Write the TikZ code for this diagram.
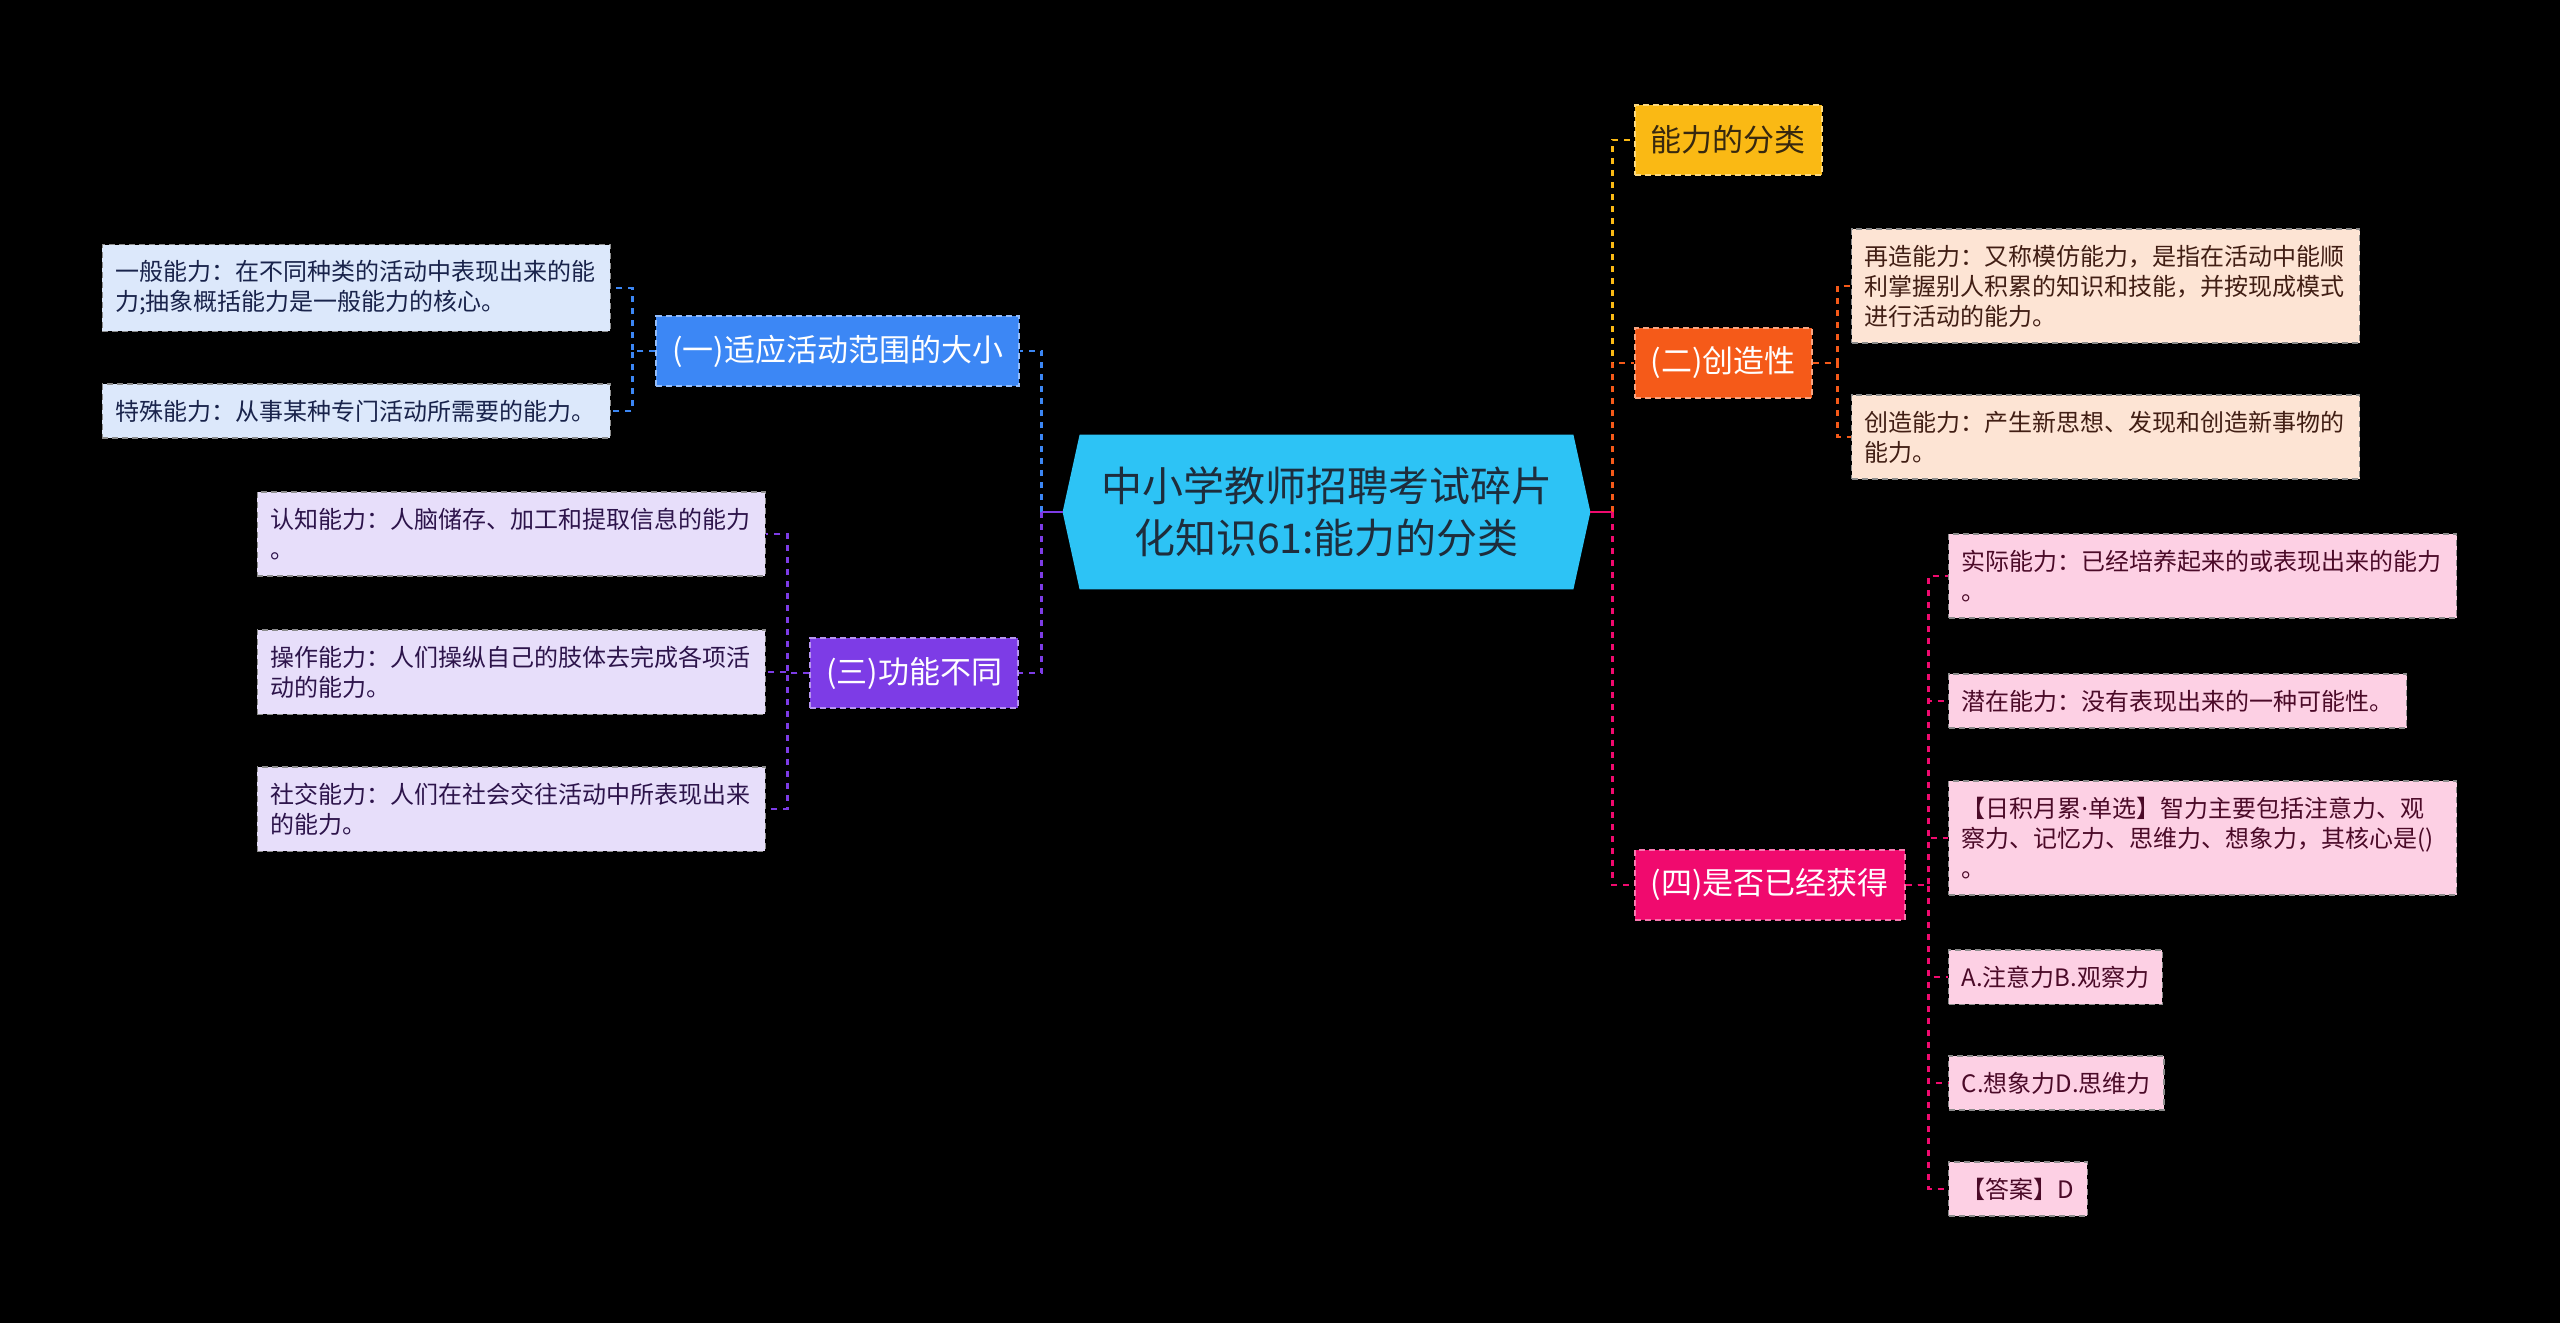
\documentclass[tikz,border=0pt]{standalone}
\usepackage{fontspec}
\setmainfont{Noto Sans CJK SC}
\newfontfamily\latinfont{Noto Sans}
\usetikzlibrary{positioning,calc,backgrounds}

\definecolor{rootcyan}{RGB}{45,195,245}
\definecolor{roottext}{RGB}{30,45,60}
\definecolor{blueb}{RGB}{60,135,245}
\definecolor{bluel}{RGB}{220,232,251}
\definecolor{bluet}{RGB}{25,35,75}
\definecolor{purpb}{RGB}{125,60,230}
\definecolor{purpl}{RGB}{231,222,250}
\definecolor{purpt}{RGB}{45,20,75}
\definecolor{yelb}{RGB}{250,185,20}
\definecolor{yelt}{RGB}{55,40,15}
\definecolor{orab}{RGB}{245,90,25}
\definecolor{oral}{RGB}{253,228,212}
\definecolor{orat}{RGB}{65,30,20}
\definecolor{pinkb}{RGB}{240,10,110}
\definecolor{pinkl}{RGB}{253,208,228}
\definecolor{pinkt}{RGB}{75,10,40}

\begin{document}
\begin{tikzpicture}[
    x=0.5pt, y=-0.5pt,
    branch/.style={rectangle, fill=#1, draw=white!45!#1, dash pattern=on 3pt off 2pt,
                   line width=0.8pt, text=white, inner xsep=8pt, minimum height=35pt,
                   font=\fontsize{15.5}{18}\selectfont},
    leaf/.style 2 args={rectangle, fill=#1, text=#2, draw=black!45, dash pattern=on 3pt off 2pt,
                   line width=0.7pt, inner xsep=6.5pt, inner ysep=8pt, minimum height=27pt,
                   align=left, font=\fontsize{12}{15}\selectfont},
    wide/.style={text width=241pt},
    link/.style={#1, line width=1.2pt, dash pattern=on 3pt off 3pt},
    stub/.style={#1, line width=1.4pt}
]
\useasboundingbox (0,0) rectangle (2560,1323);
\begin{scope}[on background layer]
  \fill[black] (0,0) rectangle (2560,1323);
\end{scope}

%% ── Root ─────────────────────────────────────────────────────────
\node[font=\fontsize{20.5}{26}\selectfont, text=roottext, align=center,
      minimum width=263.5pt, minimum height=77pt, inner sep=0pt] (root) at (1326.5,512)
    {中小学教师招聘考试碎片\\化知识61:能力的分类};
\begin{scope}[on background layer]
  \fill[rootcyan] (root.west) -- ([xshift=8.5pt]root.north west) -- ([xshift=-8.5pt]root.north east)
    -- (root.east) -- ([xshift=-8.5pt]root.south east) -- ([xshift=8.5pt]root.south west) -- cycle;
\end{scope}

%% ── Left branches ────────────────────────────────────────────────
\node[branch=blueb, anchor=east] (size) at (1020,351) {(一)适应活动范围的大小};
\node[branch=purpb, anchor=east] (func) at (1019,673) {(三)功能不同};

\node[leaf={bluel}{bluet}, wide, anchor=east] (general) at (611,288)
    {一般能力：在不同种类的活动中表现出来的能\\力;抽象概括能力是一般能力的核心。};
\node[leaf={bluel}{bluet}, wide, anchor=east] (special) at (611,411)
    {特殊能力：从事某种专门活动所需要的能力。};

\node[leaf={purpl}{purpt}, wide, anchor=east] (cognit) at (766,534)
    {认知能力：人脑储存、加工和提取信息的能力\\。};
\node[leaf={purpl}{purpt}, wide, anchor=east] (operat) at (766,672)
    {操作能力：人们操纵自己的肢体去完成各项活\\动的能力。};
\node[leaf={purpl}{purpt}, wide, anchor=east] (social) at (766,809)
    {社交能力：人们在社会交往活动中所表现出来\\的能力。};

%% ── Right branches ───────────────────────────────────────────────
\node[branch=yelb, text=yelt, anchor=west] (kinds)  at (1634,140) {能力的分类};
\node[branch=orab, anchor=west]            (create) at (1634,363) {(二)创造性};
\node[branch=pinkb, anchor=west]           (gained) at (1634,885) {(四)是否已经获得};

\node[leaf={oral}{orat}, wide, anchor=west] (reuse) at (1851,286)
    {再造能力：又称模仿能力，是指在活动中能顺\\利掌握别人积累的知识和技能，并按现成模式\\进行活动的能力。};
\node[leaf={oral}{orat}, wide, anchor=west] (invent) at (1851,437)
    {创造能力：产生新思想、发现和创造新事物的\\能力。};

\node[leaf={pinkl}{pinkt}, wide, anchor=west] (actual) at (1948,576)
    {实际能力：已经培养起来的或表现出来的能力\\。};
\node[leaf={pinkl}{pinkt}, anchor=west] (latent) at (1948,701)
    {潜在能力：没有表现出来的一种可能性。};
\node[leaf={pinkl}{pinkt}, wide, anchor=west] (quiz) at (1948,838)
    {【日积月累{\latinfont ·}单选】智力主要包括注意力、观\\察力、记忆力、思维力、想象力，其核心是()\\。};
\node[leaf={pinkl}{pinkt}, anchor=west] (optab)  at (1948,977)  {A.注意力B.观察力};
\node[leaf={pinkl}{pinkt}, anchor=west] (optcd)  at (1948,1083) {C.想象力D.思维力};
\node[leaf={pinkl}{pinkt}, anchor=west] (answer) at (1948,1189) {【答案】D};

%% ── Connectors: root ─────────────────────────────────────────────
\coordinate (lhub) at ($(root.west)+(-10.5pt,0)$);
\coordinate (rhub) at ($(root.east)+(11pt,0)$);
\draw[link=blueb] (lhub) |- (size.east);
\draw[link=purpb] (lhub) |- (func.east);
\draw[stub=purpb] (root.west) -- (lhub);
\draw[link=yelb]  (rhub) |- (kinds.west);
\draw[link=orab]  (rhub) |- (create.west);
\draw[link=pinkb] (rhub) |- (gained.west);
\draw[stub=pinkb] (root.east) -- (rhub);

%% ── Connectors: left leaves ──────────────────────────────────────
\coordinate (sizehub) at ($(size.west)+(-11.5pt,0)$);
\draw[link=blueb] (size.west) -- (sizehub) |- (general.east);
\draw[link=blueb] (size.west) -- (sizehub) |- (special.east);

\coordinate (funchub) at ($(func.west)+(-11pt,0)$);
\draw[link=purpb] (func.west) -- (funchub) |- (cognit.east);
\draw[link=purpb] (func.west) -- (funchub) |- (operat.east);
\draw[link=purpb] (func.west) -- (funchub) |- (social.east);

%% ── Connectors: right leaves ─────────────────────────────────────
\coordinate (createhub) at ($(create.east)+(12.5pt,0)$);
\draw[link=orab] (create.east) -- (createhub) |- (reuse.west);
\draw[link=orab] (create.east) -- (createhub) |- (invent.west);

\coordinate (gainedhub) at ($(gained.east)+(11.5pt,0)$);
\draw[link=pinkb] (gained.east) -- (gainedhub) |- (actual.west);
\draw[link=pinkb] (gained.east) -- (gainedhub) |- (latent.west);
\draw[link=pinkb] (gained.east) -- (gainedhub) |- (quiz.west);
\draw[link=pinkb] (gained.east) -- (gainedhub) |- (optab.west);
\draw[link=pinkb] (gained.east) -- (gainedhub) |- (optcd.west);
\draw[link=pinkb] (gained.east) -- (gainedhub) |- (answer.west);

\end{tikzpicture}
\end{document}
